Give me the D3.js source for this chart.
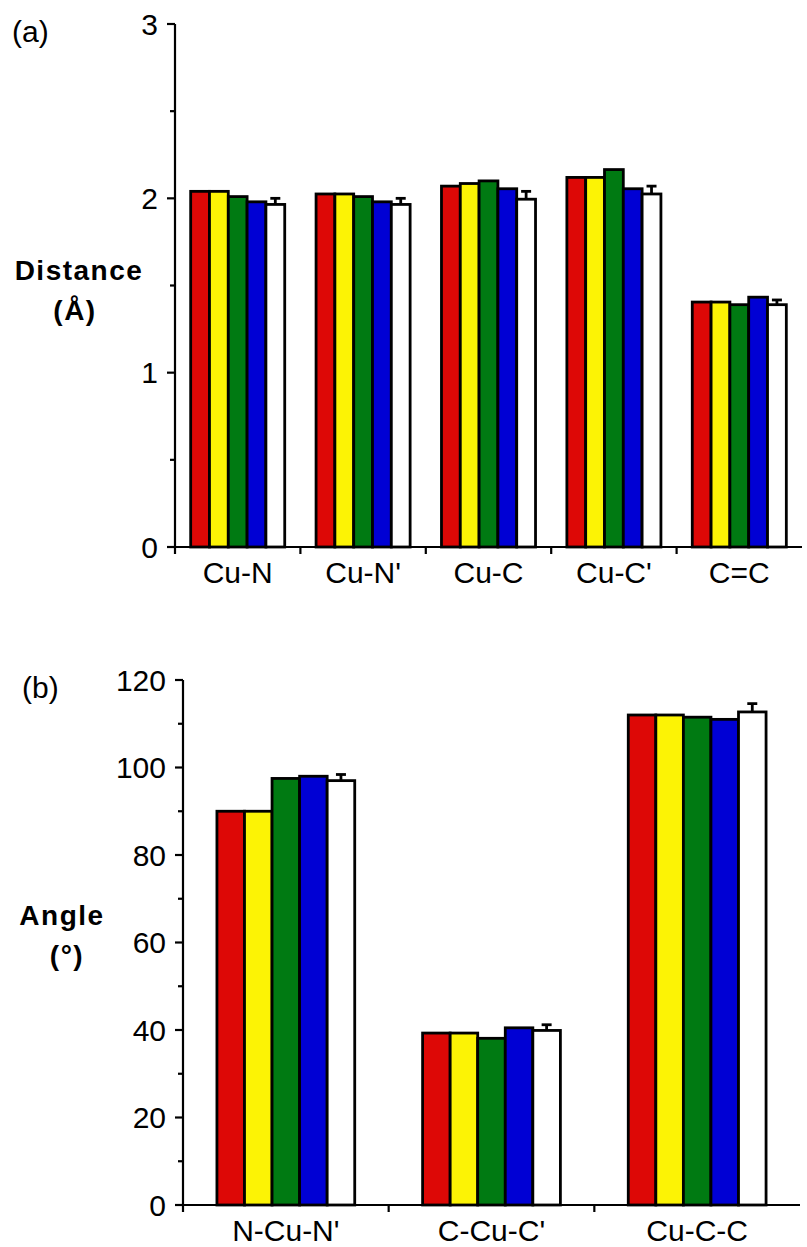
<!DOCTYPE html>
<html>
<head>
    <title>bond distances and angles</title>
    <script src="https://d3js.org/d3.v7.min.js"></script>
    <style>
        body { margin: 0; background: #fff; }
        text { font-family: "Liberation Sans", Arial, sans-serif; fill: #000; }
        .tick-label { font-size: 30px; }
        .cat-label { font-size: 30px; }
        .axis-title { font-size: 28px; font-weight: bold; letter-spacing: 1.5px; }
        .panel-label { font-size: 30px; }
        .axis-line { stroke: #000; stroke-width: 2.2; fill: none; }
        .bar { stroke: #000; stroke-width: 2.8; }
        .err { stroke: #000; stroke-width: 2.8; }
    </style>
</head>
<body>
<script>
    // series colours: red, yellow, green, blue, white (white one carries error bars)
    var seriesColors = ["#dd0806", "#fcf305", "#007a12", "#0000d4", "#ffffff"];

    // (a) distances
    var distCats = ["Cu-N", "Cu-N'", "Cu-C", "Cu-C'", "C=C"];
    var distRed = [2.04, 2.025, 2.07, 2.12, 1.405];
    var distYellow = [2.04, 2.025, 2.085, 2.12, 1.405];
    var distGreen = [2.01, 2.01, 2.10, 2.165, 1.39];
    var distBlue = [1.98, 1.98, 2.055, 2.055, 1.433];
    var distWhite = [1.965, 1.965, 1.995, 2.025, 1.39];
    var distErr = [0.035, 0.035, 0.045, 0.045, 0.027];
    var distTicks = [0, 1, 2, 3];
    var distMinor = [0.5, 1.5, 2.5];

    // (b) angles
    var angCats = ["N-Cu-N'", "C-Cu-C'", "Cu-C-C"];
    var angRed = [90, 39.3, 112];
    var angYellow = [90, 39.3, 112];
    var angGreen = [97.5, 38.1, 111.5];
    var angBlue = [98, 40.5, 111];
    var angWhite = [97, 39.9, 112.7];
    var angErr = [1.4, 1.3, 1.9];
    var angTicks = [0, 20, 40, 60, 80, 100, 120];
    var angMinor = [10, 30, 50, 70, 90, 110];

    var svg = d3.select("body").append("svg")
        .attr("width", 807)
        .attr("height", 1247);

    function drawPanel(opt) {
        var g = svg.append("g");
        var series = opt.series;

        var x0 = d3.scaleBand().domain(opt.cats).range([opt.x0, opt.x1]).padding(0);
        var bw = x0.bandwidth();
        var inner = (1 - opt.groupFrac) / 2 * bw;
        var x1 = d3.scaleBand().domain(d3.range(series.length))
            .range([inner, bw - inner]).padding(0);
        var y = d3.scaleLinear().domain(opt.yDomain).range([opt.y0, opt.y1]);

        // bars
        var groups = g.selectAll(".grp")
            .data(opt.cats).enter().append("g")
            .attr("transform", function (d) { return "translate(" + x0(d) + ",0)"; });

        groups.selectAll("rect")
            .data(function (d, i) {
                return series.map(function (s, k) { return { k: k, v: s[i] }; });
            })
            .enter().append("rect")
            .attr("class", "bar")
            .attr("x", function (d) { return x1(d.k); })
            .attr("width", x1.bandwidth())
            .attr("y", function (d) { return y(d.v); })
            .attr("height", function (d) { return y(0) - y(d.v); })
            .attr("fill", function (d) { return seriesColors[d.k]; });

        // error bars on the last (white) series, upper half only
        var last = series.length - 1;
        var ex = function (i) { return x0(opt.cats[i]) + x1(last) + x1.bandwidth() / 2; };
        opt.cats.forEach(function (c, i) {
            var top = series[last][i];
            g.append("line").attr("class", "err")
                .attr("x1", ex(i)).attr("x2", ex(i))
                .attr("y1", y(top)).attr("y2", y(top + opt.err[i]));
            g.append("line").attr("class", "err")
                .attr("x1", ex(i) - 5).attr("x2", ex(i) + 5)
                .attr("y1", y(top + opt.err[i])).attr("y2", y(top + opt.err[i]));
        });

        // y axis
        g.append("line").attr("class", "axis-line")
            .attr("x1", opt.x0).attr("x2", opt.x0)
            .attr("y1", y(opt.yDomain[1])).attr("y2", y(0));
        g.selectAll(".ymajor").data(opt.ticks).enter().append("line")
            .attr("class", "axis-line")
            .attr("x1", opt.x0 - 8).attr("x2", opt.x0)
            .attr("y1", function (d) { return y(d); }).attr("y2", function (d) { return y(d); });
        g.selectAll(".yminor").data(opt.minor).enter().append("line")
            .attr("class", "axis-line")
            .attr("x1", opt.x0 - 5).attr("x2", opt.x0)
            .attr("y1", function (d) { return y(d); }).attr("y2", function (d) { return y(d); });
        g.selectAll(".ylab").data(opt.ticks).enter().append("text")
            .attr("class", "tick-label")
            .attr("text-anchor", "end")
            .attr("x", opt.x0 - 17)
            .attr("y", function (d) { return y(d); })
            .attr("dy", "0.36em")
            .text(function (d) { return d; });

        // x axis
        g.append("line").attr("class", "axis-line")
            .attr("x1", opt.x0).attr("x2", opt.x1)
            .attr("y1", y(0)).attr("y2", y(0));
        var bounds = opt.cats.map(function (c) { return x0(c); });
        g.selectAll(".xtick").data(bounds).enter().append("line")
            .attr("class", "axis-line")
            .attr("x1", function (d) { return d; }).attr("x2", function (d) { return d; })
            .attr("y1", y(0)).attr("y2", y(0) + 7);
        g.selectAll(".xlab").data(opt.cats).enter().append("text")
            .attr("class", "cat-label")
            .attr("text-anchor", "middle")
            .attr("x", function (d) { return x0(d) + bw / 2; })
            .attr("y", y(0) + 36)
            .text(function (d) { return d; });

        // titles
        g.append("text").attr("class", "axis-title")
            .attr("text-anchor", "middle")
            .attr("x", opt.titleX).attr("y", opt.titleY)
            .text(opt.title);
        g.append("text").attr("class", "axis-title")
            .attr("text-anchor", "middle")
            .attr("x", opt.unitX).attr("y", opt.titleY + 40)
            .text(opt.unit);
        g.append("text").attr("class", "panel-label")
            .attr("x", opt.panelX).attr("y", opt.panelY)
            .text(opt.panel);
    }

    drawPanel({
        cats: distCats,
        series: [distRed, distYellow, distGreen, distBlue, distWhite],
        err: distErr,
        x0: 175, x1: 802, y0: 547, y1: 24,
        yDomain: [0, 3], ticks: distTicks, minor: distMinor,
        groupFrac: 0.75,
        title: "Distance", unit: "(\u00c5)",
        titleX: 79, unitX: 75, titleY: 280,
        panel: "(a)", panelX: 12, panelY: 42
    });

    drawPanel({
        cats: angCats,
        series: [angRed, angYellow, angGreen, angBlue, angWhite],
        err: angErr,
        x0: 183, x1: 800, y0: 1205, y1: 680,
        yDomain: [0, 120], ticks: angTicks, minor: angMinor,
        groupFrac: 0.67,
        title: "Angle", unit: "(\u00b0)",
        titleX: 62, unitX: 67, titleY: 925,
        panel: "(b)", panelX: 22, panelY: 698
    });
</script>
</body>
</html>
